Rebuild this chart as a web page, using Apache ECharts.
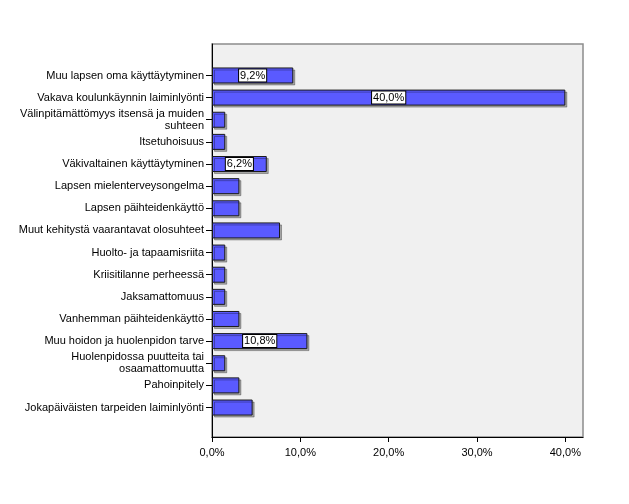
<!DOCTYPE html>
<html><head><meta charset="utf-8">
<script src="https://cdn.jsdelivr.net/npm/echarts@6/dist/echarts.min.js"></script>
<style>html,body{margin:0;padding:0;background:#fff}#c{width:629px;height:504px}</style>
</head><body><div id="c"></div>
<script>
const categories = [
  'Muu lapsen oma käyttäytyminen',
  'Vakava koulunkäynnin laiminlyönti',
  'Välinpitämättömyys itsensä ja muiden\nsuhteen',
  'Itsetuhoisuus',
  'Väkivaltainen käyttäytyminen',
  'Lapsen mielenterveysongelma',
  'Lapsen päihteidenkäyttö',
  'Muut kehitystä vaarantavat olosuhteet',
  'Huolto- ja tapaamisriita',
  'Kriisitilanne perheessä',
  'Jaksamattomuus',
  'Vanhemman päihteidenkäyttö',
  'Muu hoidon ja huolenpidon tarve',
  'Huolenpidossa puutteita tai\nosaamattomuutta',
  'Pahoinpitely',
  'Jokapäiväisten tarpeiden laiminlyönti'
];
const values = [9.2, 40.0, 1.5, 1.5, 6.2, 3.1, 3.1, 7.7, 1.5, 1.5, 1.5, 3.1, 10.8, 1.5, 3.1, 4.6];
const labelled = [true, true, false, false, true, false, false, false, false, false, false, false, true, false, false, false];
const xTicks = [0, 10, 20, 30, 40];

const fmt = v => v.toFixed(1).replace('.', ',') + '%';
const FONT = 'Liberation Sans, Arial, sans-serif';

const chart = echarts.init(document.getElementById('c'), null, {renderer: 'canvas'});
chart.setOption({
  animation: false,
  backgroundColor: '#ffffff',
  grid: [
    {left: 212, right: 46, top: 44, bottom: 67, show: true, backgroundColor: '#f0f0f0', borderColor: '#8c8c8c', borderWidth: 1.5},
    {left: 212, right: 46, top: 64.4, bottom: 85.4}
  ],
  xAxis: [
    {gridIndex: 0, type: 'value', min: 0, max: 42, interval: 10,
     axisLine: {show: true, lineStyle: {color: '#000', width: 1}},
     axisTick: {show: true, length: 5, lineStyle: {color: '#000'}, customValues: xTicks},
     axisLabel: {color: '#000', fontFamily: FONT, fontSize: 11, margin: 10, customValues: xTicks, formatter: v => fmt(v)},
     splitLine: {show: false}},
    {gridIndex: 1, type: 'value', min: 0, max: 42, show: false, splitLine: {show: false}}
  ],
  yAxis: [
    {gridIndex: 0, type: 'value', min: 0, max: 1, axisLine: {show: true, onZero: false, lineStyle: {color: '#000', width: 1}},
     axisTick: {show: false}, axisLabel: {show: false}, splitLine: {show: false}},
    {gridIndex: 1, type: 'category', inverse: true, data: categories,
     axisLine: {show: false},
     axisTick: {show: true, alignWithLabel: true, length: 6, lineStyle: {color: '#000'}},
     axisLabel: {color: '#000', fontFamily: FONT, fontSize: 11, margin: 8, align: 'right', lineHeight: 12, interval: 0},
     splitLine: {show: false}}
  ],
  series: [{
    type: 'bar', xAxisIndex: 1, yAxisIndex: 1,
    barWidth: 16,
    data: values.map((v, i) => ({value: v, label: {show: labelled[i]}})),
    itemStyle: {color: '#5a5aff', borderColor: '#1a1a1a', borderWidth: 1,
      shadowColor: 'rgba(0,0,0,0.3)', shadowOffsetX: 2, shadowOffsetY: 2, shadowBlur: 0},
    label: {position: 'inside', formatter: p => fmt(p.value), color: '#000', fontFamily: FONT, fontSize: 11,
      backgroundColor: '#fff', borderColor: '#000', borderWidth: 1, padding: [1, 1, 0, 1]}
  }]
});
</script></body></html>
